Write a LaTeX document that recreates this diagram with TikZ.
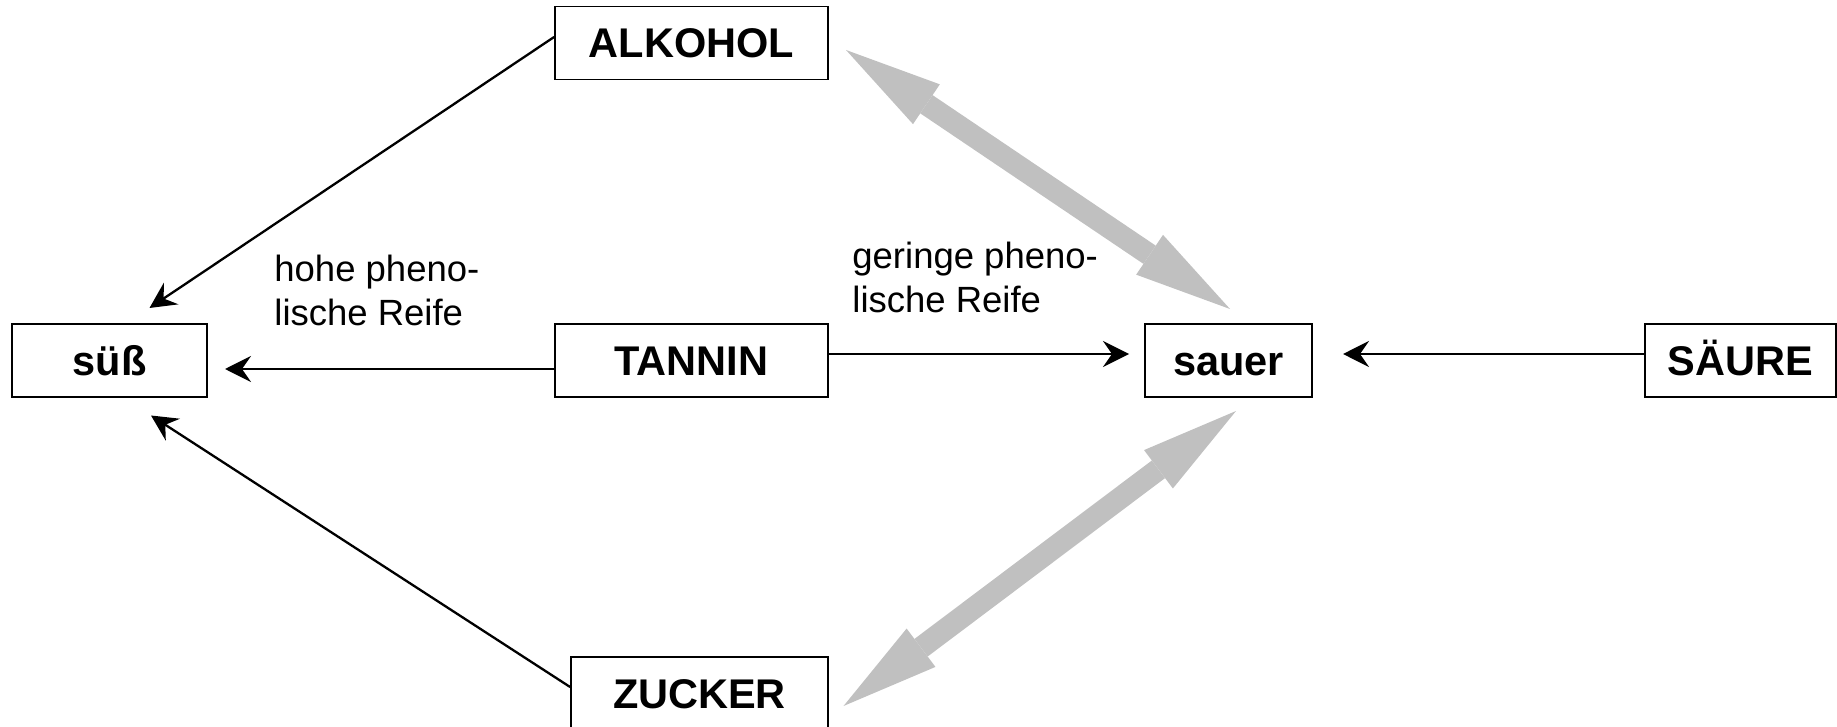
\documentclass[tikz,border=0pt]{standalone}
\usepackage{fontspec}
\setmainfont{Liberation Sans}
\usetikzlibrary{arrows.meta}
\definecolor{arrowgray}{HTML}{C0C0C0}
\begin{document}
\begin{tikzpicture}[x=0.5pt,y=-0.5pt,
  box/.style={draw=black, line width=0.9pt, rectangle, inner sep=0pt,
    font=\fontsize{20.75pt}{24pt}\selectfont\bfseries,
    text height=14.9pt, text depth=0pt, minimum height=36.5pt},
  lbl/.style={font=\fontsize{18.25pt}{22pt}\selectfont, align=left,
    inner sep=0pt, anchor=base west},
  blk/.style={line width=1.15pt, -{Stealth[length=13pt,width=13pt,inset=4.5pt]}},
  gry/.style={draw=arrowgray, line width=11pt,
    {Triangle[length=48.5pt,width=24pt,line width=0pt]}-{Triangle[length=48.5pt,width=24pt,line width=0pt]}}
]
\useasboundingbox (0,0) rectangle (1837,727);

% boxes
\node[box, minimum width=136.5pt] (alk)    at (691.5,43)    {ALKOHOL};
\node[box, minimum width=97.5pt]  (suss)   at (109.5,360.5) {süß};
\node[box, minimum width=136.5pt] (tan)    at (691.5,360.5) {TANNIN};
\node[box, minimum width=83.5pt]  (sauer)  at (1228.5,360.5){sauer};
\node[box, minimum width=95.5pt]  (saeure) at (1740.5,360.5){SÄURE};
\node[box, minimum width=128.5pt] (zuck)   at (699.5,693.5) {ZUCKER};

% labels (anchor = baseline of last line)
\node[lbl] (l1) at (274,326) {hohe pheno-\\lische Reife};
\node[lbl] (l2) at (852,313) {geringe pheno-\\lische Reife};

% arrow end points
\coordinate (t1) at (149.5,308);
\coordinate (t2) at (225,369);
\coordinate (t3) at (1129,354);
\coordinate (t4) at (1343,354);
\coordinate (t5) at (151,415.5);
\coordinate (g1) at (846,50);
\coordinate (g2) at (1230,309);
\coordinate (g3) at (843.5,706);
\coordinate (g4) at (1236,411);

% black arrows
\draw[blk] ([yshift=3pt]alk.west) -- (t1);
\draw[blk] ([yshift=-4.25pt]tan.west) -- (t2);
\draw[blk] ([yshift=3.25pt]tan.east) -- (t3);
\draw[blk] ([yshift=3.25pt]saeure.west) -- (t4);
\draw[blk] ([yshift=3.25pt]zuck.west) -- (t5);

% gray double arrows
\draw[gry] (g1) -- (g2);
\draw[gry] (g3) -- (g4);
\end{tikzpicture}
\end{document}
